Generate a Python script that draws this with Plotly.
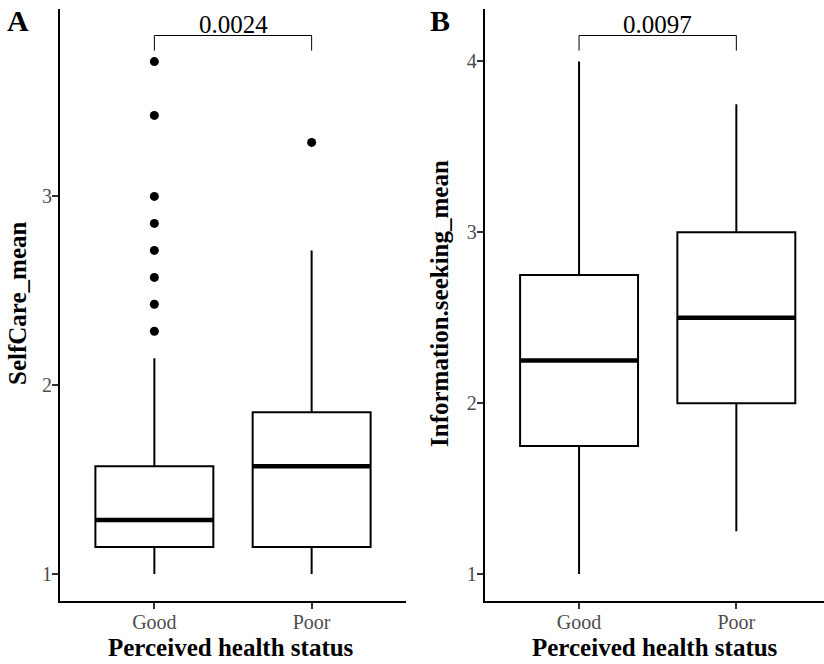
import plotly.graph_objects as go

W, H = 824, 664
FONT = "Liberation Serif"

categories = ["Good", "Poor"]

# Panel A: SelfCare_mean
a_lower = [1.0, 1.0]
a_q1 = [1.143, 1.143]
a_median = [1.286, 1.571]
a_q3 = [1.571, 1.857]
a_upper = [2.143, 2.714]
a_out_good = [2.286, 2.429, 2.571, 2.714, 2.857, 3.0, 3.429, 3.714]
a_out_poor = [3.286]
a_p = "0.0024"
a_bracket = [3.772, 3.852]

# Panel B: Information.seeking_mean
b_lower = [1.0, 1.25]
b_q1 = [1.75, 2.0]
b_median = [2.25, 2.5]
b_q3 = [2.75, 3.0]
b_upper = [4.0, 3.75]
b_p = "0.0097"
b_bracket = [4.064, 4.152]

pos = [i + 1 for i in range(len(categories))]
BW = 0.75

fig = go.Figure()

def add_panel(xa, ya, lower, q1, med, q3, upper, outliers, bracket, ptxt):
    fig.add_trace(go.Box(x=pos, q1=q1, median=med, q3=q3, lowerfence=lower, upperfence=upper,
                         width=BW, fillcolor="white", line=dict(color="black", width=2),
                         whiskerwidth=0, boxpoints=False, hoverinfo="skip",
                         xaxis=xa, yaxis=ya, showlegend=False))
    mx, my = [], []
    for p, m in zip(pos, med):
        mx += [p - BW / 2, p + BW / 2, None]
        my += [m, m, None]
    fig.add_trace(go.Scatter(x=mx, y=my, mode="lines", line=dict(color="black", width=4.5),
                             xaxis=xa, yaxis=ya, showlegend=False, hoverinfo="skip"))
    ox, oy = [], []
    for p, vals in zip(pos, outliers):
        ox += [p] * len(vals)
        oy += vals
    if ox:
        fig.add_trace(go.Scatter(x=ox, y=oy, mode="markers", marker=dict(color="black", size=9),
                                 xaxis=xa, yaxis=ya, showlegend=False, hoverinfo="skip"))
    lo, hi = bracket
    fig.add_trace(go.Scatter(x=[pos[0], pos[0], pos[1], pos[1]], y=[lo, hi, hi, lo], mode="lines",
                             line=dict(color="black", width=1), xaxis=xa, yaxis=ya,
                             showlegend=False, hoverinfo="skip"))
    fig.add_annotation(x=(pos[0] + pos[1]) / 2, y=hi, xref=xa, yref=ya, text=ptxt, showarrow=False,
                       yanchor="bottom", yshift=-4, font=dict(family=FONT, size=25, color="black"))

add_panel("x", "y", a_lower, a_q1, a_median, a_q3, a_upper, [a_out_good, a_out_poor], a_bracket, a_p)
add_panel("x2", "y2", b_lower, b_q1, b_median, b_q3, b_upper, [[], []], b_bracket, b_p)

def px_x(v):
    return v / W

def px_y(v):
    return 1 - v / H

ydom = [px_y(600.7), px_y(8.5)]
axis_common = dict(showline=True, linecolor="black", linewidth=2, ticks="outside", ticklen=6,
                   tickwidth=1.5, tickcolor="#333333", showgrid=False, zeroline=False,
                   automargin=False,
                   tickfont=dict(family=FONT, size=20, color="#4d4d4d"))

xa_px = (60, 406)
xb_left = 484.7
step = (xa_px[1] - xa_px[0]) / 2.2
xb_right_range = 0.4 + (W - xb_left) / step

fig.update_layout(
    width=W, height=H, margin=dict(l=0, r=0, t=0, b=0, autoexpand=False),
    paper_bgcolor="white", plot_bgcolor="white",
    xaxis=dict(domain=[px_x(xa_px[0]), px_x(xa_px[1])], range=[0.4, 2.6], tickvals=pos,
               ticktext=categories, anchor="y", ticklabelstandoff=-4, **axis_common),
    yaxis=dict(domain=ydom, range=[0.859, 3.995], tickvals=[1, 2, 3], anchor="x",
               ticklabelstandoff=-4, **axis_common),
    xaxis2=dict(domain=[px_x(xb_left), 1], range=[0.4, xb_right_range], tickvals=pos,
                ticktext=categories, anchor="y2", ticklabelstandoff=-4, **axis_common),
    yaxis2=dict(domain=ydom, range=[0.844, 4.31], tickvals=[1, 2, 3, 4], anchor="x2",
                ticklabelstandoff=-4, **axis_common),
)

def pann(text, xpx, ypx, size, angle=0, xanchor="center"):
    fig.add_annotation(x=px_x(xpx), y=px_y(ypx), xref="paper", yref="paper", text=text,
                       showarrow=False, textangle=angle, xanchor=xanchor, yanchor="middle",
                       borderpad=0,
                       font=dict(family=FONT, size=size, color="black", weight="bold"))

pann("Perceived health status", 231, 647, 25)
pann("Perceived health status", 655, 647, 25)
pann("SelfCare_mean", 18, 304, 25, angle=-90)
pann("Information.seeking_mean", 440, 304, 25, angle=-90)
pann("A", 6, 20, 30, xanchor="left")
pann("B", 429, 20, 30, xanchor="left")

fig.write_html("out.html", config={"displayModeBar": False},
               post_script="document.body.style.margin='0';document.body.style.padding='0';")
